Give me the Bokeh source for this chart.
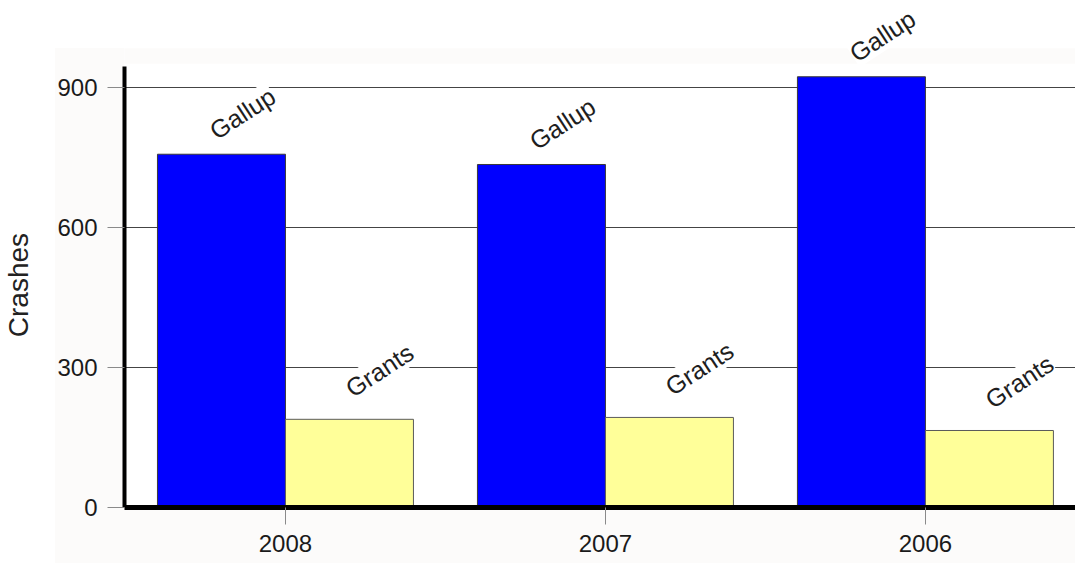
import numpy as np
from bokeh.plotting import figure
from bokeh.models import Range1d, ColumnDataSource, LabelSet, BoxAnnotation
from bokeh.core.properties import value
from bokeh.embed import file_html
from bokeh.resources import INLINE

# ---- data ----
categories = ["2008", "2007", "2006"]
series_names = ["Gallup", "Grants"]
gallup = [757, 735, 923]
grants = [189, 193, 165]
y_ticks = [0, 300, 600, 900]
y_title = "Crashes"

FONT = "Liberation Sans"
PALE = "#fcfbfa"

centers = np.arange(len(categories)) + 0.5

p = figure(width=1075, height=563, output_backend="svg", toolbar_location=None,
           x_range=Range1d(-0.003, 2.969), y_range=Range1d(0, 1086.4),
           min_border_left=124, min_border_top=0, min_border_bottom=56, min_border_right=0,
           border_fill_color=PALE, border_fill_alpha=0.0, background_fill_color="white",
           outline_line_color=None)
# page-white strips around the chart's pale background (shown through the transparent border)
p.styles = {"background": "linear-gradient(to right, #ffffff 55px, rgba(255,255,255,0) 55px), "
                          "linear-gradient(to bottom, #ffffff 48px, " + PALE + " 48px)"}

# pale band of the chart background above the plot area
p.add_layout(BoxAnnotation(bottom=951, top=984, fill_color=PALE, fill_alpha=1.0,
                           line_color=None, level="underlay"))

src_g = ColumnDataSource(dict(x=centers - 0.2, top=gallup, name=[series_names[0]] * len(categories)))
src_r = ColumnDataSource(dict(x=centers + 0.2, top=grants, name=[series_names[1]] * len(categories)))

p.vbar(x="x", top="top", width=0.4, bottom=0, source=src_g,
       fill_color="#0000ff", line_color="#3a3a3a", line_width=1)
p.vbar(x="x", top="top", width=0.4, bottom=0, source=src_r,
       fill_color="#ffff99", line_color="#5a5a5a", line_width=1)

for src, xo, yo in ((src_g, 21, 41), (src_r, 30, 49)):
    p.add_layout(LabelSet(x="x", y="top", text="name", source=src,
                          angle=33, angle_units="deg", x_offset=xo, y_offset=yo,
                          text_align="center", text_baseline="middle",
                          text_font=value(FONT), text_font_size="25px", text_color="#1e1e1e",
                          background_fill_color="white", background_fill_alpha=1.0))

# axes
p.yaxis.ticker = y_ticks
p.yaxis.bounds = (0, 945)
p.xaxis.ticker = list(centers)
p.xaxis.major_label_overrides = {float(c): cat for c, cat in zip(centers, categories)}

for ax in (p.xaxis[0], p.yaxis[0]):
    ax.axis_line_color = "black"
    ax.major_tick_out = 17
    ax.major_tick_in = 0
    ax.major_tick_line_color = "#8a8a8a"
    ax.major_tick_line_width = 1
    ax.minor_tick_line_color = None
    ax.major_label_text_font = FONT
    ax.major_label_text_font_size = "24px"
    ax.major_label_text_color = "#1a1a1a"

p.yaxis.axis_line_width = 4
p.xaxis.axis_line_width = 5
p.yaxis.major_label_standoff = 10
p.xaxis.major_label_standoff = 10

# title centred on the drawn part of the axis: non-breaking spaces pad its far end
p.yaxis.axis_label = y_title + "\u00a0" * 8
p.yaxis.axis_label_text_font = FONT
p.yaxis.axis_label_text_font_size = "28px"
p.yaxis.axis_label_text_font_style = "normal"
p.yaxis.axis_label_text_color = "#222222"
p.yaxis.axis_label_standoff = 20

p.xgrid.grid_line_color = None
p.ygrid.grid_line_color = "#444444"
p.ygrid.grid_line_width = 1

open("out.html", "w").write(file_html(p, INLINE))
